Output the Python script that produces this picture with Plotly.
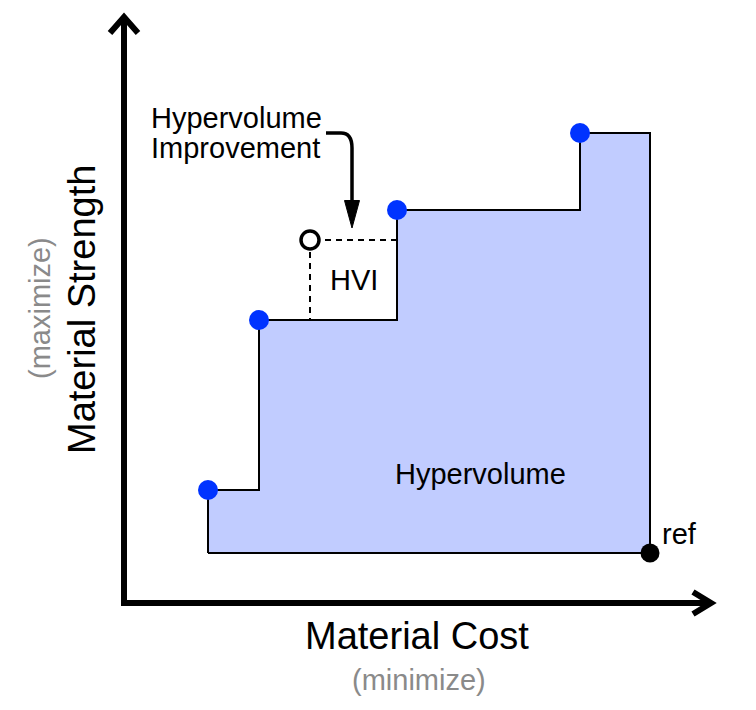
import plotly.graph_objects as go

# Pareto front (cost -> minimize, strength -> maximize), arbitrary units
cost = [1.68, 2.70, 5.46, 9.12]
strength = [2.26, 5.66, 7.86, 9.40]
ref_point = [10.52, 1.00]
candidate = [3.72, 7.26]

FONT = "Liberation Sans, Arial, sans-serif"
BLUE = "#0033ff"
FILL = "#c1ccff"

fig = go.Figure()

# hypervolume staircase polygon built from the front
hx = [cost[0]]
hy = [ref_point[1]]
for i in range(len(cost)):
    hx += [cost[i], cost[i + 1] if i + 1 < len(cost) else ref_point[0]]
    hy += [strength[i], strength[i]]
hx += [ref_point[0], cost[0]]
hy += [ref_point[1], ref_point[1]]
fig.add_trace(go.Scatter(x=hx, y=hy, mode="lines", fill="toself", fillcolor=FILL,
                         line=dict(color="black", width=2), hoverinfo="skip"))

# HVI dashed box edges
fig.add_trace(go.Scatter(x=[cost[2], candidate[0], candidate[0]],
                         y=[candidate[1], candidate[1], strength[1]],
                         mode="lines", line=dict(color="black", width=2, dash="6px,5px"),
                         hoverinfo="skip"))

# axes arrows
fig.add_trace(go.Scatter(x=[0, 0], y=[-0.06, 11.7], mode="lines",
                         line=dict(color="black", width=6), hoverinfo="skip"))
fig.add_trace(go.Scatter(x=[-0.06, 11.72], y=[0, 0], mode="lines",
                         line=dict(color="black", width=6), hoverinfo="skip"))
fig.add_trace(go.Scatter(x=[-0.28, 0, 0.28], y=[11.4, 11.72, 11.4], mode="lines",
                         line=dict(color="black", width=6), hoverinfo="skip"))
fig.add_trace(go.Scatter(x=[11.38, 11.74, 11.38], y=[0.22, 0, -0.22], mode="lines",
                         line=dict(color="black", width=6), hoverinfo="skip"))

# Pareto points
fig.add_trace(go.Scatter(x=cost, y=strength, mode="markers",
                         marker=dict(color=BLUE, size=20, line=dict(width=0)), hoverinfo="skip"))
# reference point
fig.add_trace(go.Scatter(x=[ref_point[0]], y=[ref_point[1]], mode="markers",
                         marker=dict(color="black", size=19, line=dict(width=0)), hoverinfo="skip"))
# candidate point
fig.add_trace(go.Scatter(x=[candidate[0]], y=[candidate[1]], mode="markers",
                         marker=dict(color="white", size=18, line=dict(color="black", width=3.5)),
                         hoverinfo="skip"))

# curved arrow for "Hypervolume Improvement"
ax_ = candidate[0] + 0.84
fig.add_shape(type="path",
              path=f"M {ax_-0.52} 9.4 L {ax_-0.22} 9.4 Q {ax_} 9.4 {ax_} 9.1 L {ax_} 8.0",
              line=dict(color="black", width=3.5))
fig.add_shape(type="path",
              path=f"M {ax_-0.15} 8.05 L {ax_+0.15} 8.05 L {ax_} 7.5 Z",
              fillcolor="black", line=dict(color="black", width=1))

ann = []
ann.append(dict(x=0.5, y=9.7, text="Hypervolume", xanchor="left", yanchor="middle",
                font=dict(size=29, color="black", family=FONT), showarrow=False))
ann.append(dict(x=0.5, y=9.1, text="Improvement", xanchor="left", yanchor="middle",
                font=dict(size=29, color="black", family=FONT), showarrow=False))
ann.append(dict(x=(candidate[0] + cost[2]) / 2, y=(candidate[1] + strength[1]) / 2, text="HVI",
                font=dict(size=29, color="black", family=FONT), showarrow=False))
ann.append(dict(x=7.12, y=2.58, text="Hypervolume",
                font=dict(size=29, color="black", family=FONT), showarrow=False))
ann.append(dict(x=ref_point[0] + 0.2, y=ref_point[1] + 0.38, text="ref", xanchor="left",
                font=dict(size=29, color="black", family=FONT), showarrow=False))
ann.append(dict(x=5.86, y=-0.66, text="Material Cost",
                font=dict(size=38, color="black", family=FONT), showarrow=False))
ann.append(dict(x=5.9, y=-1.54, text="(minimize)",
                font=dict(size=29, color="#8a8a8a", family=FONT), showarrow=False))
ann.append(dict(x=-0.84, y=5.86, text="Material Strength", textangle=-90,
                font=dict(size=38, color="black", family=FONT), showarrow=False))
ann.append(dict(x=-1.68, y=5.9, text="(maximize)", textangle=-90,
                font=dict(size=29, color="#8a8a8a", family=FONT), showarrow=False))

# page has an 8px body margin, so the axes ranges are offset to compensate
fig.update_layout(
    width=756, height=710, margin=dict(l=0, r=0, t=0, b=0),
    paper_bgcolor="white", plot_bgcolor="white", showlegend=False,
    annotations=ann,
    xaxis=dict(range=[-2.32, 12.8], visible=False, fixedrange=True),
    yaxis=dict(range=[-2.3, 11.9], visible=False, fixedrange=True),
)

fig.write_html("out.html")
